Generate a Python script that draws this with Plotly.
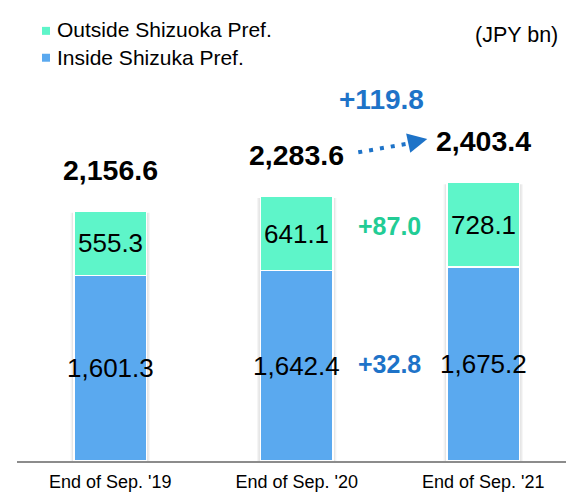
import plotly.graph_objects as go

# Deposit balance by region (JPY bn)
categories = ["End of Sep. '19", "End of Sep. '20", "End of Sep. '21"]
inside = [1601.3, 1642.4, 1675.2]
outside = [555.3, 641.1, 728.1]
totals = [2156.6, 2283.6, 2403.4]
change_inside = 32.8
change_outside = 87.0
change_total = 119.8
series_names = ["Outside Shizuoka Pref.", "Inside Shizuka Pref."]

GREEN = "#5EF5C9"
BLUE = "#5AA9EF"
GREEN_TXT = "#22CC95"
BLUE_TXT = "#1E73C8"
FONT = "Liberation Sans, Arial, sans-serif"
BAR_W = 0.39

fig = go.Figure()
fig.add_trace(go.Bar(
    x=categories, y=inside, name=series_names[1],
    marker=dict(color=BLUE, line=dict(color="white", width=1.5)),
    width=BAR_W, hoverinfo="skip", showlegend=False,
))
fig.add_trace(go.Bar(
    x=categories, y=outside, name=series_names[0],
    marker=dict(color=GREEN, line=dict(color="white", width=1.5)),
    width=BAR_W, hoverinfo="skip", showlegend=False,
))

shapes = []
# soft drop shadow behind each bar
for i, t in enumerate(totals):
    for pad, alpha in [(0.018, 0.04), (0.011, 0.06)]:
        shapes.append(dict(type="rect", xref="x", yref="y", layer="below",
                           x0=i - BAR_W / 2 - pad, x1=i + BAR_W / 2 + pad,
                           y0=0, y1=t - 15, line=dict(width=0),
                           fillcolor=f"rgba(0,0,0,{alpha})"))

# dotted growth arrow between the '20 and '21 totals
shapes.append(dict(type="line", xref="x", yref="y", x0=1.33, y0=totals[1] + 380,
                   x1=1.62, y1=totals[1] + 462,
                   line=dict(color=BLUE_TXT, width=4, dash="4px,7px")))

# legend swatches
shapes.append(dict(type="rect", xref="paper", yref="paper", x0=0.0455, x1=0.0601,
                   y0=0.9244, y1=0.9417, fillcolor=GREEN, line=dict(width=0)))
shapes.append(dict(type="rect", xref="paper", yref="paper", x0=0.0455, x1=0.0601,
                   y0=0.8661, y1=0.8834, fillcolor=BLUE, line=dict(width=0)))

annotations = []
# segment values
for i, c in enumerate(categories):
    annotations.append(dict(x=c, y=inside[i] / 2, text=f"{inside[i]:,.1f}",
                            showarrow=False, font=dict(size=26, color="black", family=FONT)))
    annotations.append(dict(x=c, y=inside[i] + outside[i] / 2, text=f"{outside[i]:,.1f}",
                            showarrow=False, font=dict(size=26, color="black", family=FONT)))

# totals above bars
for i, c in enumerate(categories):
    annotations.append(dict(x=c, y=totals[i], text=f"<b>{totals[i]:,.1f}</b>", yanchor="middle",
                            yshift=41, showarrow=False,
                            font=dict(size=28.5, color="black", family=FONT)))

# year-over-year changes
annotations.append(dict(x=1.5, y=833, text=f"<b>+{change_inside:.1f}</b>",
                        showarrow=False, font=dict(size=25, color=BLUE_TXT, family=FONT)))
annotations.append(dict(x=1.5, y=2030, text=f"<b>+{change_outside:.1f}</b>",
                        showarrow=False, font=dict(size=25, color=GREEN_TXT, family=FONT)))
annotations.append(dict(x=1.452, y=3119, text=f"<b>+{change_total:.1f}</b>",
                        showarrow=False, font=dict(size=28, color=BLUE_TXT, family=FONT)))

# arrowhead
annotations.append(dict(x=1.70, y=totals[1] + 495, ax=1.60, ay=totals[1] + 460,
                        xref="x", yref="y", axref="x", ayref="y", text="",
                        showarrow=True, arrowhead=2, arrowsize=1.3, arrowwidth=3,
                        arrowcolor=BLUE_TXT))

# legend labels
annotations.append(dict(x=0.0692, y=0.9352, xref="paper", yref="paper", xanchor="left",
                        yanchor="middle", text=series_names[0], showarrow=False,
                        font=dict(size=21, color="black", family=FONT)))
annotations.append(dict(x=0.0692, y=0.8747, xref="paper", yref="paper", xanchor="left",
                        yanchor="middle", text=series_names[1], showarrow=False,
                        font=dict(size=21, color="black", family=FONT)))

annotations.append(dict(x=1.0, y=0.9244, xref="paper", yref="paper", xanchor="right",
                        yanchor="middle", xshift=-6, text="(JPY bn)", showarrow=False,
                        font=dict(size=21.5, color="black", family=FONT)))

fig.update_layout(
    barmode="stack",
    width=566, height=492,
    margin=dict(l=17, r=0, t=0, b=29),
    paper_bgcolor="white", plot_bgcolor="white",
    font=dict(family=FONT, size=18, color="black"),
    showlegend=False,
    annotations=annotations,
    shapes=shapes,
)
fig.update_xaxes(type="category", range=[-0.5, 2.444], showline=True, linecolor="#8C8C8C",
                 linewidth=1.5, showgrid=False, ticks="", tickfont=dict(size=18, family=FONT),
                 ticklabelstandoff=4, fixedrange=True)
fig.update_yaxes(range=[0, 3978], visible=False, showgrid=False, zeroline=False, fixedrange=True)

fig.write_html("out.html")
